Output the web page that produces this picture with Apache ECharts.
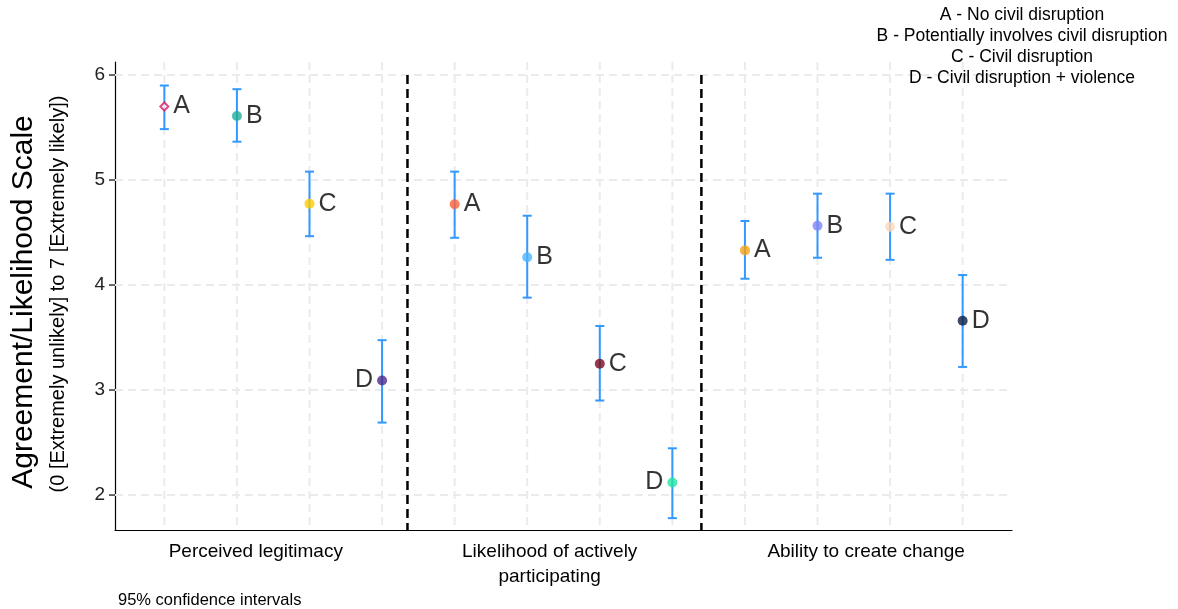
<!DOCTYPE html>
<html><head><meta charset="utf-8">
<script src="https://cdn.jsdelivr.net/npm/echarts@6/dist/echarts.min.js"></script>
<style>html,body{margin:0;padding:0;background:#fff}#c{width:1178px;height:609px}</style>
</head><body><div id="c"></div>
<script>
// ---- data ----
const categories = ['Perceived legitimacy', 'Likelihood of actively\nparticipating', 'Ability to create change'];
const conditions = ['A', 'B', 'C', 'D'];
const legendLines = ['A - No civil disruption', 'B - Potentially involves civil disruption', 'C - Civil disruption', 'D - Civil disruption + violence'];
const yTicks = [2, 3, 4, 5, 6];
const means = [5.70, 5.61, 4.775, 3.09, 4.77, 4.265, 3.25, 2.12, 4.33, 4.565, 4.555, 3.66];
const lower = [5.485, 5.365, 4.465, 2.69, 4.45, 3.88, 2.90, 1.78, 4.06, 4.26, 4.24, 3.22];
const upper = [5.90, 5.865, 5.08, 3.475, 5.08, 4.66, 3.61, 2.445, 4.61, 4.87, 4.87, 4.095];
const pointColors = ['#d81b60', '#1fae97', '#ffcc00', '#4b2a8c', '#ff6038', '#4db3ff', '#7a0a1c', '#22e6a2', '#f7a010', '#7d85f5', '#fcd8b6', '#0c1e45'];
const labelSide = ['right', 'right', 'right', 'left', 'right', 'right', 'right', 'left', 'right', 'right', 'right', 'right'];
const yTitle = 'Agreement/Likelihood Scale';
const ySubtitle = '(0 [Extremely unlikely] to 7 [Extremely likely])';
const note = '95% confidence intervals';

// ---- layout ----
const xMin = 0.32, xMax = 12.68, yMin = 1.667, yMax = 6.124;
const separators = [4.35, 8.4];
const catLabelX = [2.26, 6.31, 10.67];
const FONT = '"Liberation Sans", Arial, sans-serif';
const xs = means.map((m, i) => i + 1);

const chart = echarts.init(document.getElementById('c'));

const gridColor = '#ebebeb';
const option = {
  animation: false,
  backgroundColor: '#fff',
  grid: { left: 115, right: 166, top: 62, bottom: 79 },
  xAxis: {
    type: 'value', min: xMin, max: xMax,
    axisLine: { show: true, onZero: false, lineStyle: { color: '#000', width: 1.2 } },
    axisTick: { show: false }, axisLabel: { show: false }, splitLine: { show: false }
  },
  yAxis: {
    type: 'value', min: yMin, max: yMax,
    axisLine: { show: true, lineStyle: { color: '#000', width: 1.2 } },
    axisTick: { show: false }, splitLine: { show: false },
    axisLabel: {
      margin: 10, fontSize: 19, color: '#222', fontFamily: FONT,
      formatter: v => yTicks.some(t => Math.abs(t - v) < 1e-6) ? String(Math.round(v)) : ''
    }
  },
  graphic: [
    { type: 'text', x: 24, y: 302, rotation: Math.PI / 2, z: 100,
      style: { text: yTitle, fontSize: 30, fontFamily: FONT, fill: '#000', align: 'center', verticalAlign: 'middle' } },
    { type: 'text', x: 58, y: 294, rotation: Math.PI / 2, z: 100,
      style: { text: ySubtitle, fontSize: 20, fontFamily: FONT, fill: '#000', align: 'center', verticalAlign: 'middle' } },
    { type: 'text', x: 118, y: 600, z: 100,
      style: { text: note, fontSize: 16.5, fontFamily: FONT, fill: '#000', align: 'left', verticalAlign: 'middle' } }
  ].concat(legendLines.map((t, i) => ({
    type: 'text', x: 1022, y: 15 + i * 21, z: 100,
    style: { text: t, fontSize: 17.5, fontFamily: FONT, fill: '#000', align: 'center', verticalAlign: 'middle' }
  }))),
  series: [
    { // horizontal grid lines + y ticks
      type: 'custom', z: 1, silent: true,
      data: yTicks.map(v => [xMin, v]),
      renderItem: (params, api) => {
        const y = api.value(1);
        const p1 = api.coord([xMin, y]), p2 = api.coord([xMax, y]);
        return { type: 'group', children: [
          { type: 'line', shape: { x1: p1[0], y1: p1[1], x2: p2[0], y2: p2[1] },
            style: { stroke: gridColor, lineWidth: 2, lineDash: [8, 5] } },
          { type: 'line', shape: { x1: p1[0] - 6, y1: p1[1], x2: p1[0], y2: p1[1] },
            style: { stroke: '#000', lineWidth: 1.2 } }
        ] };
      }
    },
    { // vertical grid lines
      type: 'custom', z: 1, silent: true,
      data: xs.map(x => [x, yMin]),
      renderItem: (params, api) => {
        const x = api.value(0);
        const p1 = api.coord([x, yMax]), p2 = api.coord([x, yMin]);
        return { type: 'line', shape: { x1: p1[0], y1: p1[1], x2: p2[0], y2: p2[1] },
          style: { stroke: gridColor, lineWidth: 2, lineDash: [8, 5] } };
      }
    },
    { // group separators
      type: 'custom', z: 2, silent: true,
      data: separators.map(x => [x, yMin]),
      renderItem: (params, api) => {
        const x = api.value(0);
        const p1 = api.coord([x, 6]), p2 = api.coord([x, yMin]);
        return { type: 'line', shape: { x1: p1[0], y1: p1[1], x2: p2[0], y2: p2[1] },
          style: { stroke: '#000', lineWidth: 2.5, lineDash: [9, 5] } };
      }
    },
    { // category labels
      type: 'custom', z: 2, silent: true, clip: false,
      data: catLabelX.map((x, i) => [x, yMin, i]),
      renderItem: (params, api) => {
        const p = api.coord([api.value(0), yMin]);
        return { type: 'text', x: p[0], y: p[1] + 9,
          style: { text: categories[api.value(2)], fontSize: 19, fontFamily: FONT, fill: '#000',
            align: 'center', verticalAlign: 'top', lineHeight: 25 } };
      }
    },
    { // error bars
      type: 'custom', z: 3, silent: true,
      data: xs.map((x, i) => [x, lower[i], upper[i]]),
      renderItem: (params, api) => {
        const x = api.value(0);
        const lo = api.coord([x, api.value(1)]), hi = api.coord([x, api.value(2)]);
        const w = 4.5, st = { stroke: '#3399ff', lineWidth: 2 };
        return { type: 'group', children: [
          { type: 'line', shape: { x1: lo[0], y1: lo[1], x2: hi[0], y2: hi[1] }, style: st },
          { type: 'line', shape: { x1: lo[0] - w, y1: lo[1], x2: lo[0] + w, y2: lo[1] }, style: st },
          { type: 'line', shape: { x1: hi[0] - w, y1: hi[1], x2: hi[0] + w, y2: hi[1] }, style: st }
        ] };
      }
    },
    { // points
      type: 'scatter', z: 4,
      data: means.map((m, i) => ({
        value: [xs[i], m],
        symbol: i === 0 ? 'diamond' : 'circle',
        symbolSize: i === 0 ? 8 : 10,
        itemStyle: i === 0 ? { color: '#fff', borderColor: pointColors[i], borderWidth: 2 } : { color: pointColors[i] },
        label: { position: labelSide[i] }
      })),
      label: {
        show: true, distance: 4, fontSize: 25, fontFamily: FONT, color: '#000',
        formatter: p => conditions[p.dataIndex % 4]
      }
    }
  ]
};
chart.setOption(option);
</script></body></html>
